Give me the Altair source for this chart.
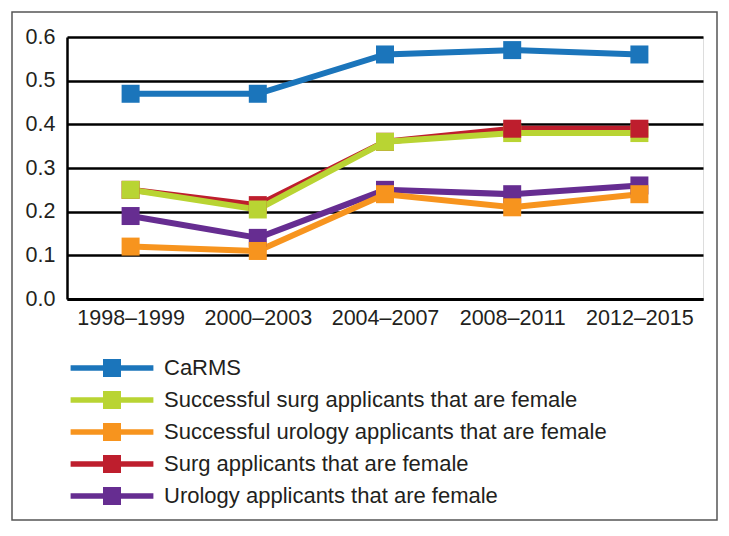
import altair as alt
import pandas as pd

periods = ["1998–1999", "2000–2003", "2004–2007", "2008–2011", "2012–2015"]
series_names = [
    "CaRMS",
    "Successful surg applicants that are female",
    "Successful urology applicants that are female",
    "Surg applicants that are female",
    "Urology applicants that are female",
]
colors = ["#1b75bb", "#b9d433", "#f7941e", "#be1e2d", "#662d91"]

carms = [0.47, 0.47, 0.56, 0.57, 0.56]
succ_surg = [0.25, 0.205, 0.36, 0.38, 0.38]
succ_uro = [0.12, 0.11, 0.24, 0.21, 0.24]
surg_app = [0.25, 0.215, 0.36, 0.39, 0.39]
uro_app = [0.19, 0.14, 0.25, 0.24, 0.26]

values = {
    "CaRMS": carms,
    "Successful surg applicants that are female": succ_surg,
    "Successful urology applicants that are female": succ_uro,
    "Surg applicants that are female": surg_app,
    "Urology applicants that are female": uro_app,
}

# stacking order of the lines (first drawn at the bottom)
line_order = [
    "Urology applicants that are female",
    "Successful urology applicants that are female",
    "Surg applicants that are female",
    "Successful surg applicants that are female",
    "CaRMS",
]
# stacking order of the markers in each period
marker_order = {
    "1998–1999": line_order,
    "2000–2003": line_order,
    "2004–2007": line_order,
    "2008–2011": [line_order[i] for i in (0, 1, 3, 2, 4)],
    "2012–2015": [line_order[i] for i in (0, 1, 3, 2, 4)],
}

line_rows = []
for name in line_order:
    for p, v in zip(periods, values[name]):
        line_rows.append({"period": p, "value": v, "series": name})
line_df = pd.DataFrame(line_rows)

point_rows = []
for i, p in enumerate(periods):
    for name in marker_order[p]:
        point_rows.append({"period": p, "value": values[name][i], "series": name})
point_df = pd.DataFrame(point_rows)

FONT = "Liberation Sans"
TXT = "#231f20"

x = alt.X("period:N", sort=periods, title=None,
          scale=alt.Scale(type="point", padding=0.5),
          axis=alt.Axis(labelAngle=0, labelFontSize=21.5, labelFont=FONT, labelColor=TXT,
                        ticks=False, labelPadding=8, domainColor="black", domainWidth=3,
                        grid=False))
y = alt.Y("value:Q", title=None,
          scale=alt.Scale(domain=[0, 0.6], nice=False),
          axis=alt.Axis(values=[0, 0.1, 0.2, 0.3, 0.4, 0.5, 0.6], format=".1f",
                        labelFontSize=21.5, labelFont=FONT, labelColor=TXT, ticks=False,
                        labelPadding=12, domainColor="black", domainWidth=2.5,
                        grid=True, gridColor="black", gridWidth=2.5, gridOpacity=1))
color_scale = alt.Scale(domain=series_names, range=colors)
# legend glyph: a line with a square marker in the middle (unit = 9 px)
path = "M-4.6,-0.3H4.6V0.3H-4.6Z M-1,-1H1V1H-1Z"
legend = alt.Legend(title=None, orient="none", legendX=34, legendY=320,
                    symbolType=path, symbolSize=324,
                    symbolStrokeWidth=0, symbolOpacity=1,
                    labelFont=FONT, labelFontSize=22, labelColor=TXT,
                    labelOffset=41, rowPadding=10, labelLimit=600)

lines = alt.Chart(line_df).mark_line(strokeWidth=6).encode(
    x=x, y=y,
    color=alt.Color("series:N", scale=color_scale, legend=legend),
    detail="series:N",
)
points = alt.Chart(point_df).mark_point(shape="square", filled=True, size=324, opacity=1).encode(
    x=x, y=y,
    color=alt.Color("series:N", scale=color_scale, legend=legend),
)
frame = alt.Chart(pd.DataFrame({"a": [0]})).mark_rect(
    fill=None, stroke="#555555", strokeWidth=1.5
).encode(x=alt.value(-55), x2=alt.value(650), y=alt.value(-25), y2=alt.value(483))

chart = alt.layer(frame, lines, points).properties(
    width=636, height=262,
    autosize=alt.AutoSizeParams(type="none"),
    padding={"left": 59, "top": 29, "right": 15, "bottom": 229},
).configure_view(stroke=None).configure(background="white")

chart.save("out.html", embed_options={"renderer": "svg", "actions": False})
